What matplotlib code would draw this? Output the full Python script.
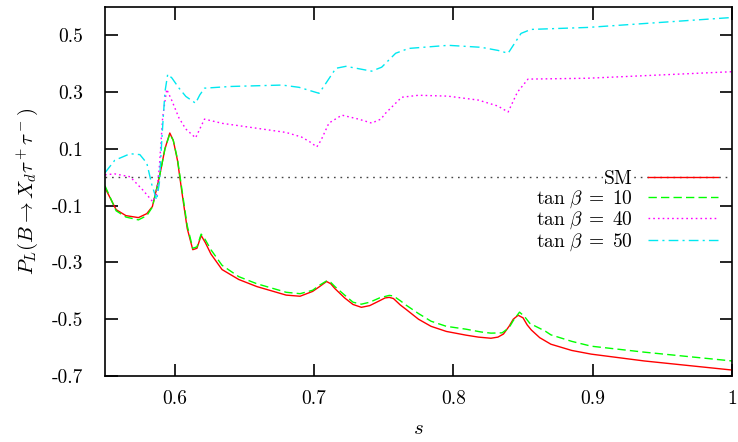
import matplotlib
matplotlib.use("Agg")
import matplotlib.pyplot as plt

plt.rcParams['font.family'] = ['cmr10', 'DejaVu Serif']
plt.rcParams['mathtext.fontset'] = 'cm'
plt.rcParams['axes.unicode_minus'] = False
plt.rcParams['axes.formatter.use_mathtext'] = True

# ---- data ----
sm_x = [0.55, 0.558, 0.565, 0.574, 0.58, 0.584, 0.589, 0.593, 0.5965, 0.599, 0.602,
        0.606, 0.609, 0.613, 0.616, 0.619, 0.622, 0.626, 0.634, 0.646, 0.659, 0.68,
        0.69, 0.699, 0.704, 0.709, 0.712, 0.715, 0.722, 0.728, 0.734, 0.74, 0.747,
        0.751, 0.754, 0.757, 0.762, 0.766, 0.775, 0.784, 0.795, 0.809, 0.818, 0.827,
        0.832, 0.836, 0.84, 0.843, 0.8465, 0.85, 0.853, 0.856, 0.862, 0.87, 0.885,
        0.899, 0.937, 1.0]
sm_y = [-0.037, -0.114, -0.135, -0.142, -0.128, -0.103, 0.0, 0.10, 0.156, 0.13, 0.06,
        -0.08, -0.18, -0.255, -0.25, -0.205, -0.23, -0.27, -0.325, -0.36, -0.385, -0.415,
        -0.419, -0.402, -0.385, -0.367, -0.375, -0.392, -0.425, -0.448, -0.458, -0.452, -0.435,
        -0.425, -0.423, -0.427, -0.45, -0.465, -0.5, -0.525, -0.543, -0.556, -0.563, -0.567,
        -0.563, -0.552, -0.525, -0.5, -0.486, -0.495, -0.52, -0.538, -0.565, -0.588, -0.61,
        -0.623, -0.647, -0.679]

t10_x = [0.55, 0.558, 0.565, 0.574, 0.58, 0.584, 0.589, 0.593, 0.5965, 0.599, 0.602,
         0.606, 0.609, 0.613, 0.616, 0.619, 0.622, 0.626, 0.634, 0.646, 0.659, 0.68,
         0.69, 0.699, 0.704, 0.709, 0.712, 0.715, 0.722, 0.728, 0.734, 0.74, 0.747,
         0.754, 0.757, 0.762, 0.766, 0.775, 0.784, 0.795, 0.809, 0.82, 0.827, 0.835,
         0.84, 0.843, 0.8475, 0.851, 0.855, 0.866, 0.87, 0.885, 0.899, 0.937, 1.0]
t10_y = [-0.03, -0.118, -0.14, -0.15, -0.135, -0.105, 0.0, 0.10, 0.153, 0.13, 0.065,
         -0.07, -0.17, -0.25, -0.245, -0.2, -0.22, -0.255, -0.31, -0.35, -0.375, -0.405,
         -0.41, -0.398, -0.38, -0.365, -0.37, -0.385, -0.415, -0.44, -0.447, -0.44, -0.425,
         -0.416, -0.418, -0.435, -0.45, -0.48, -0.507, -0.525, -0.535, -0.545, -0.549, -0.548,
         -0.53, -0.505, -0.475, -0.49, -0.515, -0.542, -0.555, -0.578, -0.595, -0.616, -0.647]

t40_x = [0.55, 0.557, 0.568, 0.577, 0.5843, 0.587, 0.589, 0.5914, 0.5943, 0.598, 0.603,
         0.608, 0.615, 0.618, 0.6214, 0.6343, 0.653, 0.68, 0.691, 0.697, 0.702, 0.705,
         0.7107, 0.72, 0.732, 0.7414, 0.748, 0.7514, 0.7629, 0.775, 0.796, 0.818, 0.832,
         0.8393, 0.846, 0.8536, 0.8964, 1.0]
t40_y = [0.009, 0.012, 0.002, -0.044, -0.086, -0.06, 0.037, 0.212, 0.31, 0.27, 0.21,
         0.17, 0.139, 0.17, 0.205, 0.19, 0.177, 0.158, 0.142, 0.125, 0.107, 0.13,
         0.191, 0.219, 0.205, 0.191, 0.205, 0.226, 0.282, 0.289, 0.286, 0.272, 0.251,
         0.23, 0.3, 0.346, 0.349, 0.372]

t50_x = [0.55, 0.557, 0.568, 0.575, 0.58, 0.5836, 0.5871, 0.589, 0.591, 0.593, 0.595,
         0.598, 0.603, 0.608, 0.615, 0.618, 0.6214, 0.64, 0.6771, 0.6893, 0.7036, 0.707,
         0.7157, 0.7229, 0.7414, 0.7486, 0.7586, 0.7679, 0.7964, 0.82, 0.8321, 0.8393,
         0.8486, 0.8557, 0.8964, 1.0]
t50_y = [0.016, 0.06, 0.083, 0.08, 0.05, -0.026, -0.08, -0.02, 0.15, 0.3, 0.363,
         0.35, 0.315, 0.285, 0.261, 0.29, 0.314, 0.32, 0.325, 0.317, 0.296, 0.32,
         0.384, 0.391, 0.374, 0.388, 0.437, 0.454, 0.465, 0.458, 0.447, 0.437,
         0.507, 0.521, 0.528, 0.563]

xticks = [0.6, 0.7, 0.8, 0.9, 1.0]
xtick_labels = ['0.6', '0.7', '0.8', '0.9', '1']
yticks = [0.5, 0.3, 0.1, -0.1, -0.3, -0.5, -0.7]
ytick_labels = ['0.5', '0.3', '0.1', '-0.1', '-0.3', '-0.5', '-0.7']
labels = [r'$\mathrm{SM}$', r'$\tan\,\beta\;=\;10$', r'$\tan\,\beta\;=\;40$', r'$\tan\,\beta\;=\;50$']

fig = plt.figure(figsize=(7.38, 4.42), dpi=100)
ax = fig.add_axes([105/738, 66/442, 627/738, 369/442])

ax.axhline(0, color='#444444', lw=1.0, ls=(0, (1.2, 3.5)), zorder=1)
l1, = ax.plot(sm_x, sm_y, color='#ff0000', lw=1.0, ls='-', label=labels[0])
l2, = ax.plot(t10_x, t10_y, color='#00ff00', lw=1.0, ls=(0, (6, 3)), label=labels[1])
l3, = ax.plot(t40_x, t40_y, color='#ff00ff', lw=1.0, ls=(0, (1.2, 2.2)), label=labels[2])
l4, = ax.plot(t50_x, t50_y, color='#00e8f0', lw=1.0, ls=(0, (7, 3, 1.5, 3)), label=labels[3])

ax.set_xlim(0.55, 1.0)
ax.set_ylim(-0.7, 0.6)
ax.set_xticks(xticks)
ax.set_xticklabels(xtick_labels)
ax.set_yticks(yticks)
ax.set_yticklabels(ytick_labels)
ax.tick_params(direction='in', length=9, width=1.2, labelsize=14, top=True, right=True)
ax.tick_params(axis='y', pad=16)
ax.tick_params(axis='x', pad=10)
for sp in ax.spines.values():
    sp.set_linewidth(1.2)

ax.set_xlabel(r'$s$', fontsize=15, labelpad=9)
ax.set_ylabel(r'$P_L(B\rightarrow X_d\tau^+\tau^-)$', fontsize=15, labelpad=8)

leg = ax.legend(handles=[l1, l2, l3, l4], loc='upper right', bbox_to_anchor=(0.978, 0.558),
                frameon=False, markerfirst=False, fontsize=14, handlelength=3.6,
                handletextpad=0.8, labelspacing=0.0, borderpad=0, borderaxespad=0)
leg.get_texts()[0].set_bbox(dict(facecolor='white', edgecolor='none', pad=0))

fig.savefig('out.png', dpi=100)
